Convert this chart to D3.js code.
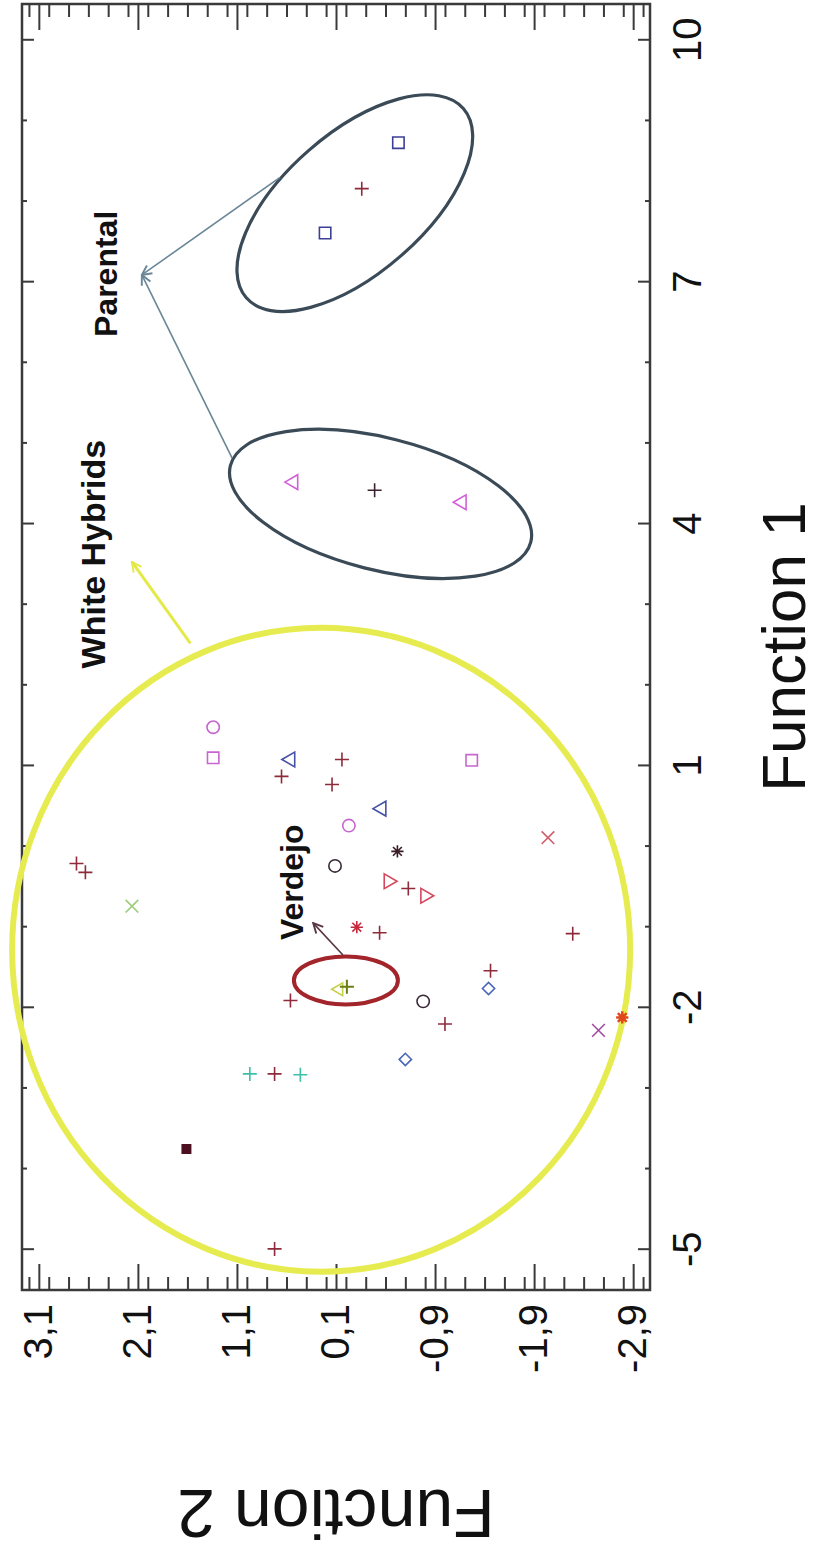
<!DOCTYPE html>
<html>
<head>
<meta charset="utf-8">
<script src="https://cdn.jsdelivr.net/npm/d3@7"></script>
<style>
  body { margin: 0; background: #fff; }
  svg { display: block; }
</style>
</head>
<body>
<svg id="chart" width="818" height="1562"></svg>
<script>
// values, as [Function 1, Function 2]
const f1Ticks = [-5, -2, 1, 4, 7, 10];
const f2Ticks = [3.1, 2.1, 1.1, 0.1, -0.9, -1.9, -2.9];

const redPlus = [[-4.99, 0.72], [-2.82, 0.72], [-1.91, 0.56], [-2.2, -1.0], [-1.54, -1.46],
  [-1.08, -2.29], [-1.07, -0.34], [-0.52, -0.63], [0.77, 0.14], [0.87, 0.65], [1.08, 0.04],
  [-0.21, 2.72], [-0.32, 2.63], [8.16, -0.16]];
const darkPlus = [[4.42, -0.29]];
const cyanPlus = [[-2.82, 0.97], [-2.83, 0.46]];
const verdejoPlus = [[-1.74, -0.01]];
const verdejoTri = [[-1.77, 0.07]];
const redStar = [[-1.0, -0.11]];
const darkStar = [[-0.06, -0.52]];
const orangeStar = [[-2.12, -2.79]];
const darkSquare = [[-3.75, 1.61]];
const pinkCircle = [[0.26, -0.03], [1.48, 1.34]];
const darkCircle = [[-1.92, -0.78], [-0.24, 0.11]];
const pinkSquare = [[1.1, 1.34], [1.07, -1.27]];
const blueSquare = [[8.73, -0.53], [7.61, 0.21]];
const blueTriUp = [[0.47, -0.36], [1.08, 0.56]];
const pinkTriUp = [[4.52, 0.53], [4.27, -1.17]];
const redTriDown = [[-0.43, -0.43], [-0.61, -0.8]];
const blueDiamond = [[-2.64, -0.6], [-1.76, -1.44]];
const redTimes = [[0.11, -2.04]];
const purpleTimes = [[-2.28, -2.55]];
const greenTimes = [[-0.74, 2.16]];

const W = 818, H = 1562;
const svg = d3.select("#chart");
// the figure is a normal chart turned a quarter turn to the left
const g = svg.append("g").attr("transform", `translate(0,${H}) rotate(-90)`);

const x = d3.scaleLinear().domain([-5.5, 10.45]).range([272, 1558]);
const y = d3.scaleLinear().domain([-3.07, 3.27]).range([650, 22]);
const font = "'Liberation Sans', Arial, sans-serif";

// custom marker shapes
const plusType = { draw(c, s) { const r = Math.sqrt(s) / 2; c.moveTo(-r, 0); c.lineTo(r, 0); c.moveTo(0, -r); c.lineTo(0, r); } };
const timesType = { draw(c, s) { const r = Math.sqrt(s) / 2; c.moveTo(-r, -r); c.lineTo(r, r); c.moveTo(-r, r); c.lineTo(r, -r); } };
const starType = { draw(c, s) { const r = Math.sqrt(s) / 2, q = r * 0.72;
  c.moveTo(-r, 0); c.lineTo(r, 0); c.moveTo(0, -r); c.lineTo(0, r);
  c.moveTo(-q, -q); c.lineTo(q, q); c.moveTo(-q, q); c.lineTo(q, -q); } };
const diamondType = { draw(c, s) { const r = Math.sqrt(s) / 2; c.moveTo(0, -r); c.lineTo(r, 0); c.lineTo(0, r); c.lineTo(-r, 0); c.closePath(); } };

const series = [
  { pts: redPlus, type: plusType, size: 196, color: "#8e2b3b" },
  { pts: darkPlus, type: plusType, size: 196, color: "#3a2230" },
  { pts: cyanPlus, type: plusType, size: 196, color: "#3cc0a8" },
  { pts: verdejoTri, type: d3.symbolTriangle, size: 70, color: "#c6d04a" },
  { pts: verdejoPlus, type: plusType, size: 196, color: "#6e7d12", w: 2 },
  { pts: redStar, type: starType, size: 150, color: "#c8283c" },
  { pts: darkStar, type: starType, size: 150, color: "#3a1c28" },
  { pts: orangeStar, type: starType, size: 150, color: "#e0481c", w: 2.5 },
  { pts: darkSquare, type: d3.symbolSquare, size: 70, color: "#4d1020", fill: true },
  { pts: pinkCircle, type: d3.symbolCircle, size: 120, color: "#c766cf" },
  { pts: darkCircle, type: d3.symbolCircle, size: 120, color: "#3a2a38" },
  { pts: pinkSquare, type: d3.symbolSquare, size: 130, color: "#c766cf" },
  { pts: blueSquare, type: d3.symbolSquare, size: 130, color: "#3d3f96" },
  { pts: blueTriUp, type: d3.symbolTriangle, size: 95, color: "#4652a6" },
  { pts: pinkTriUp, type: d3.symbolTriangle, size: 95, color: "#d35fd6" },
  { pts: redTriDown, type: d3.symbolTriangle, size: 95, color: "#d5485e", rot: 180 },
  { pts: blueDiamond, type: diamondType, size: 150, color: "#4a66b8" },
  { pts: redTimes, type: timesType, size: 160, color: "#d25c6a" },
  { pts: purpleTimes, type: timesType, size: 160, color: "#a24aa0" },
  { pts: greenTimes, type: timesType, size: 160, color: "#9ccc7a" }
];

// frame
g.append("rect")
  .attr("x", x.range()[0]).attr("y", y.range()[1])
  .attr("width", x.range()[1] - x.range()[0])
  .attr("height", y.range()[0] - y.range()[1])
  .attr("fill", "none").attr("stroke", "#3a3a3a").attr("stroke-width", 2.5);

// Function 1 axis, ticks inward on both sides
const f1Minor = d3.range(-5, 11, 1).filter(d => !f1Ticks.includes(d));
function styleAxis(sel) {
  sel.select(".domain").remove();
  sel.selectAll("line").attr("stroke", "#3a3a3a").attr("stroke-width", 2);
  sel.selectAll("text").attr("font-size", 40).attr("font-family", font).attr("fill", "#111");
}
g.append("g").attr("transform", `translate(0,${y.range()[0]})`)
  .call(d3.axisBottom(x).tickValues(f1Ticks).tickSizeInner(-12).tickSizeOuter(0).tickPadding(23).tickFormat(d => String(d)))
  .call(styleAxis);
g.append("g").attr("transform", `translate(0,${y.range()[0]})`)
  .call(d3.axisBottom(x).tickValues(f1Minor).tickSizeInner(-5).tickSizeOuter(0).tickFormat(""))
  .call(styleAxis);
g.append("g").attr("transform", `translate(0,${y.range()[1]})`)
  .call(d3.axisTop(x).tickValues(f1Ticks).tickSizeInner(-12).tickSizeOuter(0).tickFormat(""))
  .call(styleAxis);
g.append("g").attr("transform", `translate(0,${y.range()[1]})`)
  .call(d3.axisTop(x).tickValues(f1Minor).tickSizeInner(-5).tickSizeOuter(0).tickFormat(""))
  .call(styleAxis);

// Function 2 axis
const f2Minor = d3.range(-3.0, 3.3, 0.2).map(d => +d.toFixed(1))
  .filter(d => y(d) >= y.range()[1] && !f2Ticks.some(t => Math.abs(t - d) < 1e-6));
const commaFmt = d => d.toFixed(1).replace(".", ",");
g.append("g").attr("transform", `translate(${x.range()[0]},0)`)
  .call(d3.axisLeft(y).tickValues(f2Ticks).tickSizeInner(-26).tickSizeOuter(0).tickPadding(14).tickFormat(commaFmt))
  .call(styleAxis);
g.append("g").attr("transform", `translate(${x.range()[0]},0)`)
  .call(d3.axisLeft(y).tickValues(f2Minor).tickSizeInner(-13).tickSizeOuter(0).tickFormat(""))
  .call(styleAxis);
g.append("g").attr("transform", `translate(${x.range()[1]},0)`)
  .call(d3.axisRight(y).tickValues(f2Ticks).tickSizeInner(-26).tickSizeOuter(0).tickFormat(""))
  .call(styleAxis);
g.append("g").attr("transform", `translate(${x.range()[1]},0)`)
  .call(d3.axisRight(y).tickValues(f2Minor).tickSizeInner(-13).tickSizeOuter(0).tickFormat(""))
  .call(styleAxis);

// axis titles
const midX = d3.mean(x.range()), midY = d3.mean(y.range());
g.append("text").attr("x", midX).attr("y", 805)
  .attr("text-anchor", "middle").attr("font-family", font).attr("font-size", 62).attr("fill", "#111")
  .text("Function 1");
g.append("text").attr("transform", `translate(72,${midY}) rotate(-90)`)
  .attr("text-anchor", "middle").attr("font-family", font).attr("font-size", 68).attr("fill", "#111")
  .text("Function 2");

// arrow heads
const defs = svg.append("defs");
function arrowHead(id, color) {
  defs.append("marker").attr("id", id).attr("viewBox", "0 0 10 10")
    .attr("refX", 9).attr("refY", 5).attr("markerWidth", 12).attr("markerHeight", 12)
    .attr("markerUnits", "userSpaceOnUse").attr("orient", "auto")
    .append("path").attr("d", "M1,1 L9,5 L1,9").attr("fill", "none")
    .attr("stroke", color).attr("stroke-width", 1.6);
}
arrowHead("arrGray", "#6b8797");
arrowHead("arrYellow", "#e3ea48");
arrowHead("arrDark", "#5a3545");

// group outlines: centre in data units, radii in pixels
const outlines = [
  { c: [-1.28, 0.25], rx: 322, ry: 309, rot: 0, color: "#e6ec50", w: 6 },
  { c: [7.98, -0.09], rx: 144, ry: 70, rot: 48.9, color: "#3b4a57", w: 3.2 },
  { c: [4.25, -0.35], rx: 155, ry: 66, rot: 104.3, color: "#3b4a57", w: 3.2 },
  { c: [-1.66, 0.0], rx: 24, ry: 52, rot: 0, color: "#a3252c", w: 4 }
];
g.selectAll("ellipse.outline").data(outlines).join("ellipse")
  .attr("class", "outline")
  .attr("transform", d => `translate(${x(d.c[0])},${y(d.c[1])}) rotate(${d.rot})`)
  .attr("rx", d => d.rx).attr("ry", d => d.ry)
  .attr("fill", "none").attr("stroke", d => d.color).attr("stroke-width", d => d.w);

// pointer lines [from, to]
const pointers = [
  { a: [2.52, 1.57], b: [3.53, 2.16], color: "#e3ea48", w: 3, m: "arrYellow" },
  { a: [8.30, 0.665], b: [7.09, 2.06], color: "#6b8797", w: 1.6, m: "arrGray" },
  { a: [4.82, 1.15], b: [7.09, 2.06], color: "#6b8797", w: 1.6, m: "arrGray" },
  { a: [-1.345, 0.03], b: [-0.95, 0.33], color: "#5a3545", w: 1.6, m: "arrDark" }
];
g.selectAll("line.pointer").data(pointers).join("line")
  .attr("class", "pointer")
  .attr("x1", d => x(d.a[0])).attr("y1", d => y(d.a[1]))
  .attr("x2", d => x(d.b[0])).attr("y2", d => y(d.b[1]))
  .attr("stroke", d => d.color).attr("stroke-width", d => d.w)
  .attr("marker-end", d => `url(#${d.m})`);

// points
series.forEach(s => {
  const sym = d3.symbol().type(s.type).size(s.size);
  g.append("g").selectAll("path").data(s.pts).join("path")
    .attr("transform", d => `translate(${x(d[0])},${y(d[1])})` + (s.rot ? ` rotate(${s.rot})` : ""))
    .attr("d", sym)
    .attr("fill", s.fill ? s.color : "none")
    .attr("stroke", s.color)
    .attr("stroke-width", s.w || 1.6);
});

// labels
const labels = [
  { t: "Parental", p: [6.32, 2.31], size: 32 },
  { t: "White Hybrids", p: [2.21, 2.43], size: 34 },
  { t: "Verdejo", p: [-1.16, 0.43], size: 32 }
];
g.selectAll("text.note").data(labels).join("text")
  .attr("class", "note")
  .attr("x", d => x(d.p[0])).attr("y", d => y(d.p[1]))
  .attr("font-family", font).attr("font-weight", "bold").attr("font-size", d => d.size)
  .attr("fill", "#111")
  .text(d => d.t);
</script>
</body>
</html>
